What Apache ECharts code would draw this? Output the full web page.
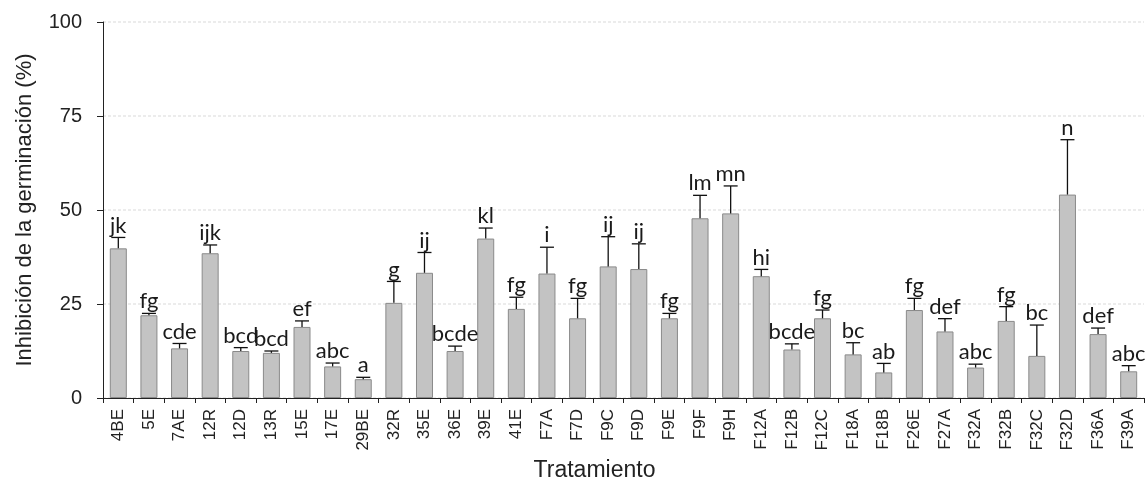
<!DOCTYPE html>
<html>
<head>
<meta charset="utf-8">
<script src="https://cdn.jsdelivr.net/npm/echarts@6/dist/echarts.min.js"></script>
<style>
  html, body { margin: 0; padding: 0; background: #fff; }
  #chart { width: 1145px; height: 480px; }
</style>
</head>
<body>
<div id="chart"></div>
<script>
// Treatments (isolates / extracts)
const treatments = ['4BE','5E','7AE','12R','12D','13R','15E','17E','29BE','32R',
  '35E','36E','39E','41E','F7A','F7D','F9C','F9D','F9E','F9F','F9H','F12A',
  'F12B','F12C','F18A','F18B','F26E','F27A','F32A','F32B','F32C','F32D','F36A','F39A'];

// Mean germination inhibition (%)
const meanInhibition = [39.8,22.0,13.2,38.5,12.5,12.0,18.9,8.4,5.0,25.3,
  33.3,12.5,42.4,23.7,33.1,21.2,35.0,34.3,21.2,47.8,49.1,32.4,
  12.9,21.2,11.6,6.8,23.4,17.7,8.1,20.5,11.2,54.1,17.0,7.1];

// Standard error (upper bar only)
const errorValues = [2.9,0.5,1.3,2.2,0.9,0.5,1.6,0.9,0.5,5.7,
  5.4,1.3,2.8,3.1,7.0,5.3,7.9,6.7,1.3,6.1,7.3,1.8,
  1.5,2.2,3.1,2.4,3.1,3.4,0.9,3.8,8.2,14.6,1.6,1.5];

// Significance groups (Tukey letters)
const groupLetters = ['jk','fg','cde','ijk','bcd','bcd','ef','abc','a','g',
  'ij','bcde','kl','fg','i','fg','ij','ij','fg','lm','mn','hi',
  'bcde','fg','bc','ab','fg','def','abc','fg','bc','n','def','abc'];

const yTicks = { min: 0, max: 100, interval: 25 };

const errorData = treatments.map((t, i) => [i, meanInhibition[i], errorValues[i]]);

const chart = echarts.init(document.getElementById('chart'), null, { renderer: 'canvas' });

chart.setOption({
  animation: false,
  backgroundColor: '#ffffff',
  grid: { left: 103, right: 1, top: 22, bottom: 82, containLabel: false, outerBoundsMode: 'none' },
  xAxis: {
    type: 'category',
    data: treatments,
    name: 'Tratamiento',
    nameLocation: 'middle',
    nameGap: 61,
    nameTextStyle: { fontFamily: 'Liberation Sans', fontSize: 23, color: '#222', padding: [0, 58, 0, 0] },
    axisLine: { lineStyle: { color: '#222', width: 1 } },
    axisTick: { show: true, length: 5, lineStyle: { color: '#222' } },
    axisLabel: {
      rotate: 90, interval: 0, margin: 11,
      fontFamily: 'Liberation Sans', fontSize: 17, color: '#222'
    },
    splitLine: { show: false }
  },
  yAxis: {
    type: 'value',
    min: yTicks.min, max: yTicks.max, interval: yTicks.interval,
    name: 'Inhibición de la germinación (%)',
    nameLocation: 'middle',
    nameGap: 67,
    nameTextStyle: { fontFamily: 'Liberation Sans', fontSize: 22, color: '#222' },
    axisLine: { show: true, lineStyle: { color: '#222', width: 1 } },
    axisTick: { show: true, inside: false, length: 6, lineStyle: { color: '#222' } },
    axisLabel: { margin: 21, fontFamily: 'Liberation Sans', fontSize: 20, color: '#222' },
    splitLine: { show: true, lineStyle: { color: '#e6e6e6', width: 1.5, type: [3, 2] } }
  },
  series: [
    {
      type: 'bar',
      data: meanInhibition,
      barWidth: 17,
      itemStyle: { color: '#c3c3c3', borderColor: '#8a8a8a', borderWidth: 1 },
      z: 2
    },
    {
      type: 'custom',
      data: errorData,
      z: 3,
      renderItem: function (params, api) {
        const idx = api.value(0);
        const mean = api.value(1);
        const err = api.value(2);
        const base = api.coord([idx, mean]);
        const top = api.coord([idx, mean + err]);
        const half = 7;
        return {
          type: 'group',
          children: [
            { type: 'line', shape: { x1: base[0], y1: base[1], x2: top[0], y2: top[1] },
              style: { stroke: '#111', lineWidth: 1.3 } },
            { type: 'line', shape: { x1: top[0] - half, y1: top[1], x2: top[0] + half, y2: top[1] },
              style: { stroke: '#111', lineWidth: 1.3 } },
            { type: 'text',
              style: { x: top[0], y: top[1] - 1, text: groupLetters[idx], align: 'center', verticalAlign: 'bottom',
                       fontFamily: 'Lato', fontSize: 22, fill: '#1a1a1a' } }
          ]
        };
      }
    }
  ]
});
</script>
</body>
</html>
